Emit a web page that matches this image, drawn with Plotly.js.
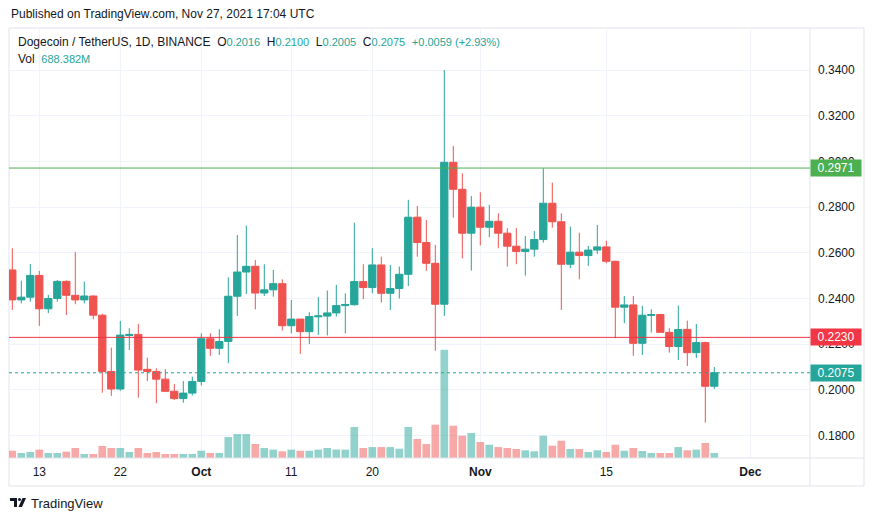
<!DOCTYPE html>
<html>
<head>
<meta charset="utf-8">
<script src="https://cdn.plot.ly/plotly-3.0.1.min.js"></script>
<style>
html,body{margin:0;padding:0;background:#fff;}
#chart{width:874px;height:521px;}
</style>
</head>
<body>
<div id="chart"></div>
<script>
// ---------- DATA ----------
const dates = [
 '2021-09-10','2021-09-11','2021-09-12','2021-09-13','2021-09-14','2021-09-15','2021-09-16','2021-09-17','2021-09-18','2021-09-19',
 '2021-09-20','2021-09-21','2021-09-22','2021-09-23','2021-09-24','2021-09-25','2021-09-26','2021-09-27','2021-09-28','2021-09-29',
 '2021-09-30','2021-10-01','2021-10-02','2021-10-03','2021-10-04','2021-10-05','2021-10-06','2021-10-07','2021-10-08','2021-10-09',
 '2021-10-10','2021-10-11','2021-10-12','2021-10-13','2021-10-14','2021-10-15','2021-10-16','2021-10-17','2021-10-18','2021-10-19',
 '2021-10-20','2021-10-21','2021-10-22','2021-10-23','2021-10-24','2021-10-25','2021-10-26','2021-10-27','2021-10-28','2021-10-29',
 '2021-10-30','2021-10-31','2021-11-01','2021-11-02','2021-11-03','2021-11-04','2021-11-05','2021-11-06','2021-11-07','2021-11-08',
 '2021-11-09','2021-11-10','2021-11-11','2021-11-12','2021-11-13','2021-11-14','2021-11-15','2021-11-16','2021-11-17','2021-11-18',
 '2021-11-19','2021-11-20','2021-11-21','2021-11-22','2021-11-23','2021-11-24','2021-11-25','2021-11-26','2021-11-27'
];
const opens = [
 0.2525,0.2394,0.2406,0.2501,0.2355,0.2400,0.2475,0.2414,0.2394,0.2411,
 0.2327,0.2081,0.2004,0.2238,0.2243,0.2090,0.2081,0.2047,0.1994,0.1962,
 0.1986,0.2037,0.2224,0.2182,0.2212,0.2410,0.2516,0.2541,0.2424,0.2438,
 0.2465,0.2281,0.2310,0.2255,0.2320,0.2323,0.2337,0.2369,0.2373,0.2474,
 0.2448,0.2547,0.2423,0.2444,0.2506,0.2756,0.2645,0.2554,0.2375,0.2996,
 0.2878,0.2686,0.2800,0.2712,0.2738,0.2686,0.2629,0.2606,0.2616,0.2658,
 0.2817,0.2736,0.2550,0.2603,0.2588,0.2612,0.2626,0.2563,0.2362,0.2372,
 0.2204,0.2326,0.2330,0.2252,0.2190,0.2265,0.2163,0.2207,0.2016
];
const highs = [
 0.2620,0.2478,0.2551,0.2521,0.2416,0.2481,0.2480,0.2603,0.2474,0.2413,
 0.2333,0.2185,0.2302,0.2270,0.2289,0.2141,0.2095,0.2091,0.2026,0.2039,
 0.2058,0.2248,0.2248,0.2266,0.2493,0.2678,0.2719,0.2569,0.2550,0.2525,
 0.2484,0.2394,0.2311,0.2340,0.2406,0.2435,0.2460,0.2423,0.2732,0.2550,
 0.2620,0.2583,0.2547,0.2540,0.2832,0.2805,0.2744,0.2635,0.3400,0.3068,
 0.2948,0.2849,0.2865,0.2810,0.2773,0.2708,0.2708,0.2674,0.2696,0.2970,
 0.2907,0.2773,0.2715,0.2688,0.2630,0.2722,0.2653,0.2565,0.2411,0.2411,
 0.2368,0.2353,0.2333,0.2270,0.2369,0.2303,0.2289,0.2211,0.2100
];
const lows = [
 0.2350,0.2379,0.2386,0.2280,0.2336,0.2386,0.2328,0.2375,0.2379,0.2309,
 0.1988,0.1974,0.1996,0.2175,0.1966,0.2039,0.1942,0.1990,0.1956,0.1944,
 0.1975,0.2019,0.2149,0.2153,0.2117,0.2324,0.2420,0.2353,0.2411,0.2408,
 0.2260,0.2248,0.2158,0.2201,0.2241,0.2238,0.2321,0.2248,0.2369,0.2397,
 0.2423,0.2382,0.2350,0.2400,0.2455,0.2583,0.2521,0.2171,0.2324,0.2754,
 0.2576,0.2522,0.2632,0.2668,0.2620,0.2540,0.2550,0.2500,0.2583,0.2645,
 0.2710,0.2350,0.2533,0.2484,0.2543,0.2595,0.2554,0.2226,0.2292,0.2149,
 0.2153,0.2251,0.2251,0.2163,0.2131,0.2105,0.2139,0.1857,0.2005
];
const closes = [
 0.2394,0.2406,0.2501,0.2355,0.2400,0.2475,0.2414,0.2394,0.2411,0.2327,
 0.2081,0.2004,0.2240,0.2243,0.2087,0.2081,0.2047,0.1994,0.1962,0.1986,
 0.2037,0.2224,0.2182,0.2212,0.2410,0.2516,0.2541,0.2424,0.2438,0.2465,
 0.2281,0.2310,0.2255,0.2321,0.2324,0.2337,0.2369,0.2374,0.2474,0.2448,
 0.2547,0.2423,0.2444,0.2506,0.2756,0.2645,0.2554,0.2375,0.2996,0.2878,
 0.2686,0.2800,0.2712,0.2738,0.2686,0.2629,0.2606,0.2616,0.2658,0.2817,
 0.2736,0.2550,0.2603,0.2588,0.2612,0.2626,0.2563,0.2362,0.2372,0.2204,
 0.2327,0.2330,0.2252,0.2190,0.2264,0.2163,0.2207,0.2016,0.2075
];
// volume, millions of DOGE
const volumes = [
 1000,690,830,1150,690,690,870,1380,550,550,
 1650,1380,1380,830,1380,690,830,550,550,550,
 550,1000,690,690,2890,3300,3300,1930,1380,1150,
 920,1150,1000,1000,1150,1380,1170,1150,4270,1380,
 1510,1510,1510,1280,4270,2620,1930,4590,14920,4450,
 3070,3440,2200,1830,1510,1380,1240,1060,920,3070,
 1700,2380,1240,1240,830,1060,830,1830,1000,1380,
 960,690,690,690,1510,1060,1150,2070,688
];
const priceTicks = [0.18,0.20,0.22,0.24,0.26,0.28,0.30,0.32,0.34];
const priceTickText = ['0.1800','0.2000','0.2200','0.2400','0.2600','0.2800','0.3000','0.3200','0.3400'];
const dateTicks = ['2021-09-13','2021-09-22','2021-10-01','2021-10-11','2021-10-20','2021-11-01','2021-11-15','2021-12-01'];
const dateTickText = ['13','22','<b>Oct</b>','11','20','<b>Nov</b>','15','<b>Dec</b>'];
const resistanceLevel = 0.2971;
const supportLevel = 0.2230;
const lastClose = 0.2075;
const legendOHLC = {o:'0.2016', h:'0.2100', l:'0.2005', c:'0.2075', chg:'+0.0059 (+2.93%)', vol:'688.382M'};

// ---------- STYLE ----------
const UP = '#26a69a', DOWN = '#ef5350';
const UPV = 'rgba(38,166,154,0.5)', DOWNV = 'rgba(239,83,80,0.5)';
const FONT = 'Liberation Sans, Arial, sans-serif';
const TXT = '#131722';
const W = 874, H = 521;
const px = x => x / W;
const py = y => 1 - y / H;

const volColors = closes.map((c, i) => c >= opens[i] ? UPV : DOWNV);

const candles = {
  type: 'candlestick', x: dates, open: opens, high: highs, low: lows, close: closes,
  xaxis: 'x', yaxis: 'y',
  increasing: {line: {color: UP, width: 1}, fillcolor: UP},
  decreasing: {line: {color: DOWN, width: 1}, fillcolor: DOWN},
  whiskerwidth: 0, hoverinfo: 'skip'
};
const vol = {
  type: 'bar', x: dates, y: volumes, xaxis: 'x', yaxis: 'y2',
  marker: {color: volColors, line: {width: 0}}, hoverinfo: 'skip'
};

const teal = s => '<span style="color:' + UP + ';font-size:11px">' + s + '</span>';
const sp = '\u00A0\u00A0';
const legend1 = 'Dogecoin / TetherUS, 1D, BINANCE' + sp + 'O' + teal(legendOHLC.o) + sp + 'H' + teal(legendOHLC.h) +
  sp + 'L' + teal(legendOHLC.l) + sp + 'C' + teal(legendOHLC.c) + sp + teal(legendOHLC.chg);
const legend2 = 'Vol' + sp + teal(legendOHLC.vol);

const priceTag = (val, color) => ({
  xref: 'paper', yref: 'y', x: px(810), y: val, xanchor: 'left', yanchor: 'middle',
  text: val.toFixed(4), showarrow: false, bgcolor: color, width: 48, height: 14, borderpad: 1,
  font: {family: FONT, size: 12, color: '#ffffff'}
});

const layout = {
  width: W, height: H, margin: {l: 0, r: 0, t: 0, b: 0},
  paper_bgcolor: '#ffffff', plot_bgcolor: '#ffffff', showlegend: false,
  boxgap: 0.1, boxgroupgap: 0.1, bargap: 0.15,
  font: {family: FONT, color: TXT},
  xaxis: {
    type: 'date', domain: [px(9), px(810)],
    range: ['2021-09-09 15:12', '2021-12-07 15:12'],
    tickmode: 'array', tickvals: dateTicks, ticktext: dateTickText,
    showgrid: true, gridcolor: '#f0f3fa', zeroline: false, showline: false, ticks: '',
    ticklabelstandoff: 5,
    tickfont: {family: FONT, size: 12, color: TXT},
    rangeslider: {visible: false}, fixedrange: true
  },
  yaxis: {
    domain: [py(458), py(28)], range: [0.1702, 0.3584], side: 'right', anchor: 'x',
    tickmode: 'array', tickvals: priceTicks, ticktext: priceTickText,
    showgrid: true, gridcolor: '#f0f3fa', zeroline: false, showline: false, ticks: '',
    ticklabelstandoff: 7,
    tickfont: {family: FONT, size: 12, color: TXT}, fixedrange: true
  },
  yaxis2: {overlaying: 'y', domain: [py(458), py(28)], range: [0, 59240], visible: false, fixedrange: true},
  shapes: [
    {type: 'rect', xref: 'paper', yref: 'paper', x0: px(9), x1: px(864), y0: py(486), y1: py(28),
     line: {color: '#e0e3eb', width: 1}, layer: 'below'},
    {type: 'line', xref: 'paper', yref: 'paper', x0: px(810), x1: px(810), y0: py(486), y1: py(28),
     line: {color: '#e0e3eb', width: 1}},
    {type: 'line', xref: 'paper', yref: 'paper', x0: px(9), x1: px(864), y0: py(458), y1: py(458),
     line: {color: '#e0e3eb', width: 1}},
    {type: 'line', xref: 'x domain', yref: 'y', x0: 0, x1: 1, y0: resistanceLevel, y1: resistanceLevel,
     line: {color: '#4caf50', width: 1}},
    {type: 'line', xref: 'x domain', yref: 'y', x0: 0, x1: 1, y0: supportLevel, y1: supportLevel,
     line: {color: '#f23645', width: 1}},
    {type: 'line', xref: 'x domain', yref: 'y', x0: 0, x1: 1, y0: lastClose, y1: lastClose,
     line: {color: UP, width: 1, dash: 'dot'}},
    {type: 'path', xref: 'paper', yref: 'paper', fillcolor: TXT, line: {width: 0},
     path: 'M' + px(10) + ',' + py(498) + ' L' + px(17) + ',' + py(498) + ' L' + px(17) + ',' + py(507) +
           ' L' + px(14) + ',' + py(507) + ' L' + px(14) + ',' + py(501) + ' L' + px(10) + ',' + py(501) + ' Z'},
    {type: 'circle', xref: 'paper', yref: 'paper', fillcolor: TXT, line: {width: 0},
     x0: px(18), x1: px(21), y0: py(501), y1: py(498)},
    {type: 'path', xref: 'paper', yref: 'paper', fillcolor: TXT, line: {width: 0},
     path: 'M' + px(22.5) + ',' + py(498) + ' L' + px(26) + ',' + py(498) + ' L' + px(22) + ',' + py(507) +
           ' L' + px(18.5) + ',' + py(507) + ' Z'}
  ],
  annotations: [
    {xref: 'paper', yref: 'paper', x: px(9), y: py(14), xanchor: 'left', yanchor: 'middle', showarrow: false,
     text: 'Published on TradingView.com, Nov 27, 2021 17:04 UTC', font: {family: FONT, size: 12, color: TXT}},
    {xref: 'paper', yref: 'paper', x: px(16), y: py(42), xanchor: 'left', yanchor: 'middle', showarrow: false,
     text: legend1, font: {family: FONT, size: 12, color: TXT}},
    {xref: 'paper', yref: 'paper', x: px(16), y: py(59), xanchor: 'left', yanchor: 'middle', showarrow: false,
     text: legend2, font: {family: FONT, size: 12, color: TXT}},
    {xref: 'paper', yref: 'paper', x: px(29), y: py(503), xanchor: 'left', yanchor: 'middle', showarrow: false,
     text: 'TradingView', font: {family: FONT, size: 13, color: TXT}},
    priceTag(resistanceLevel, '#4caf50'),
    priceTag(supportLevel, '#f23645'),
    priceTag(lastClose, UP)
  ]
};

Plotly.newPlot('chart', [vol, candles], layout, {displayModeBar: false, staticPlot: true});
</script>
</body>
</html>
